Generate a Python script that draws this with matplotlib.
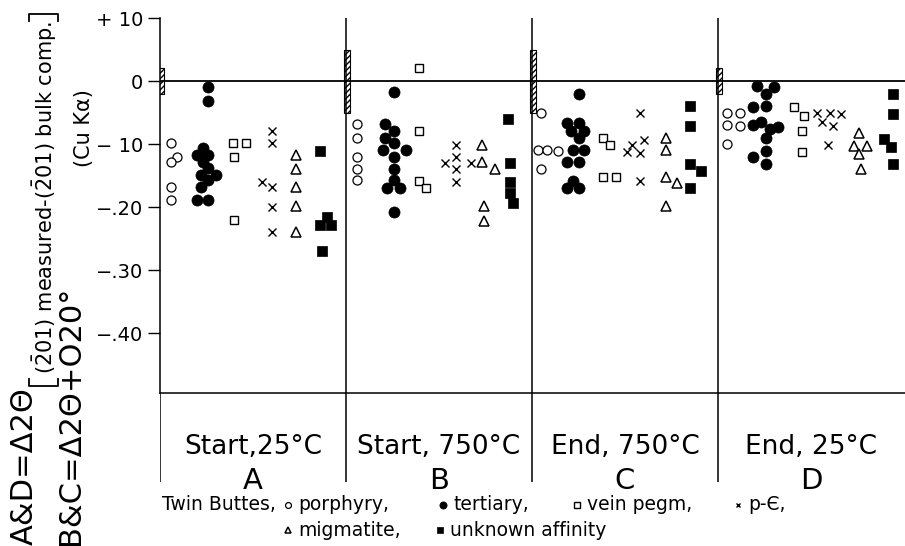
import matplotlib
matplotlib.use("Agg")
import matplotlib.pyplot as plt
from matplotlib.lines import Line2D

plt.rcParams['font.family'] = ['DejaVu Sans']
plt.rcParams['mathtext.fontset'] = 'dejavusans'

# experiment stages (one panel each)
stages = ["Start,25°C", "Start, 750°C", "End, 750°C", "End, 25°C"]
stage_letters = ["A", "B", "C", "D"]

# range of the bulk composition reference (hatched bars)
ref_top = [2, 5, 5, 2]
ref_bottom = [-2, -5, -5, -2]

# delta 2-theta values (x 0.01 deg), one list per panel A..D
porphyry = [[-9.8, -12.0, -12.8, -16.8, -18.9],
            [-6.8, -9.0, -12.0, -13.9, -15.7],
            [-5.0, -11.0, -11.0, -11.1, -14.0],
            [-5.0, -5.0, -7.0, -7.1, -10.0]]
tertiary = [[-0.9, -3.1, -10.6, -11.8, -11.8, -12.8, -13.8, -14.9, -14.9, -15.7, -16.8, -18.9, -18.9],
            [-1.8, -6.8, -7.9, -9.1, -9.9, -11.0, -11.0, -12.0, -13.9, -15.7, -16.9, -16.9, -20.8],
            [-2.0, -6.7, -6.7, -7.9, -7.9, -9.0, -11.0, -11.0, -12.9, -12.9, -15.9, -16.9, -17.0],
            [-0.8, -1.0, -2.1, -4.1, -4.0, -7.0, -6.5, -7.6, -7.3, -9.1, -11.1, -12.0, -13.1]]
vein_pegm = [[-9.9, -9.8, -12.1, -22.1],
             [2.0, -7.9, -15.9, -17.0],
             [-9.0, -10.1, -15.2, -15.2],
             [-4.1, -5.5, -8.0, -11.3]]
pre_cambrian = [[-7.9, -9.9, -16.0, -16.8, -20.0, -23.9],
                [-10.1, -12.0, -13.0, -13.9, -13.0, -16.0],
                [-5.0, -9.3, -10.1, -11.3, -11.4, -15.9],
                [-5.1, -5.1, -5.2, -6.5, -7.1, -10.1]]
migmatite = [[-11.8, -14.0, -16.8, -19.8, -23.9],
             [-10.1, -12.8, -14.0, -19.9, -22.2],
             [-9.1, -11.0, -15.2, -16.2, -19.8],
             [-8.2, -10.3, -10.3, -11.5, -14.0]]
unknown = [[-11.1, -21.5, -22.8, -22.8, -26.9],
           [-6.0, -13.0, -16.0, -17.8, -19.3],
           [-4.0, -7.1, -13.1, -14.2, -16.9],
           [-2.1, -5.2, -9.2, -10.4, -13.1]]

# horizontal placement of each point inside its panel (fraction of panel width)
porphyry_dx = [[.06, .09, .06, .06, .06], [.06] * 5,
               [.05, .03, .08, .14, .05], [.05, .12, .05, .12, .05]]
tertiary_dx = [[.26, .26, .23, .20, .26, .23, .26, .22, .30, .26, .22, .20, .26],
               [.26, .21, .26, .21, .26, .20, .32, .26, .26, .26, .22, .29, .26],
               [.25, .19, .25, .21, .28, .25, .22, .28, .19, .25, .22, .19, .25],
               [.21, .30, .26, .19, .26, .19, .23, .28, .32, .26, .26, .19, .26]]
vein_pegm_dx = [[.39, .46, .40, .40], [.39, .39, .39, .43],
                [.38, .42, .38, .45], [.41, .46, .45, .45]]
pre_cambrian_dx = [[.60, .60, .55, .60, .60, .60], [.59, .59, .53, .59, .67, .59],
                   [.58, .60, .54, .51, .58, .58], [.53, .60, .66, .56, .62, .59]]
migmatite_dx = [[.73] * 5, [.73, .73, .80, .74, .74],
                [.72, .72, .72, .78, .72], [.76, .73, .80, .76, .77]]
unknown_dx = [[.86, .90, .86, .92, .87], [.87, .88, .88, .88, .90],
              [.85, .85, .85, .91, .85], [.94, .94, .89, .93, .94]]

styles = [
    (porphyry, porphyry_dx, dict(marker='o', ms=6.5, mfc='white', mec='black', mew=0.9)),
    (tertiary, tertiary_dx, dict(marker='o', ms=8, mfc='black', mec='black', mew=0.5)),
    (vein_pegm, vein_pegm_dx, dict(marker='s', ms=6, mfc='white', mec='black', mew=1.0)),
    (pre_cambrian, pre_cambrian_dx, dict(marker='x', ms=5.5, mec='black', mew=1.0)),
    (migmatite, migmatite_dx, dict(marker='^', ms=6.5, mfc='white', mec='black', mew=1.1)),
    (unknown, unknown_dx, dict(marker='s', ms=7, mfc='black', mec='black', mew=0.5)),
]

W, H = 905, 546
fig = plt.figure(figsize=(W / 100, H / 100), dpi=100)
fig.patch.set_facecolor('white')

def fx(px):
    return px / W

def fy(py):
    return 1 - py / H

panel_px = 186.0
left_px, right_px = 160, 905
top_px, bottom_px = 18, 393
strip_px = 482

ax = fig.add_axes([fx(left_px), fy(bottom_px), fx(right_px - left_px), (bottom_px - top_px) / H])
ax.set_xlim(0, (right_px - left_px) / panel_px)
ax.set_ylim(-49.5, 10)

for vals, dxs, st in styles:
    for i in range(4):
        xs = [i + d for d in dxs[i]]
        ax.plot(xs, vals[i], linestyle='none', color='black', **st)

# hatched reference bars on the panel edges
for i in range(4):
    ax.bar(i + 0.005, ref_top[i] - ref_bottom[i], bottom=ref_bottom[i], width=0.035,
           fill=False, hatch='//////', edgecolor='black', linewidth=0.8)

ax.axhline(0, color='black', lw=1.3)
for i in (1, 2, 3):
    ax.axvline(i, color='black', lw=1.1)

for s in ('top', 'right'):
    ax.spines[s].set_visible(False)
ax.spines['left'].set_linewidth(1.1)
ax.spines['bottom'].set_linewidth(1.1)
ax.set_xticks([])
ax.set_yticks([10, 0, -10, -20, -30, -40])
ax.set_yticklabels(["+ 10", "0", "\u2212 10", "\u2212.20", "\u2212.30", "\u2212.40"], fontsize=14)
ax.tick_params(axis='y', direction='out', length=9, width=1.0, pad=3)

# stage labels under the panels
lab = fig.add_axes([fx(left_px), fy(strip_px), fx(right_px - left_px), (strip_px - bottom_px) / H])
lab.set_xlim(ax.get_xlim())
lab.set_ylim(strip_px, bottom_px)
lab.axis('off')
for i in range(4):
    lab.axvline(i, color='black', lw=1.1)
    lab.text(i + 0.5, 447, stages[i], ha='center', va='center', fontsize=19)
    lab.text(i + 0.5, 481, stage_letters[i], ha='center', va='center', fontsize=21)

# y axis description, with a tall bracket drawn as lines
fig.text(fx(24), fy(545), "A&D=\u03942\u0398", rotation=90, ha='center', va='bottom', fontsize=22)
fig.text(fx(45), fy(374), r"($\bar{2}$01) measured-($\bar{2}$01) bulk comp.",
         rotation=90, ha='center', va='bottom', fontsize=15)
fig.text(fx(71), fy(545), "B&C=\u03942\u0398+O20\u00b0", rotation=90, ha='center', va='bottom', fontsize=22)
fig.text(fx(84), fy(128), "(Cu K\u03b1)", rotation=90, ha='center', va='center', fontsize=15)
for yb, tick in ((386, -7), (14, 7)):
    fig.add_artist(Line2D([fx(29), fx(29), fx(58), fx(58)],
                          [fy(yb + tick), fy(yb), fy(yb), fy(yb + tick)],
                          transform=fig.transFigure, color='black', lw=1.3))

# legend line
leg_y1, leg_y2 = fy(505), fy(530)
fig.text(fx(162), leg_y1, "Twin Buttes,", ha='left', va='center', fontsize=13.5)
legend_items = [
    (288, leg_y1, styles[0][2], "porphyry,"),
    (443, leg_y1, styles[1][2], "tertiary,"),
    (577, leg_y1, styles[2][2], "vein pegm,"),
    (738, leg_y1, styles[3][2], "p-\u0404,"),
    (288, leg_y2, styles[4][2], "migmatite,"),
    (440, leg_y2, styles[5][2], "unknown affinity"),
]
for px, yy, st, txt in legend_items:
    small = dict(st)
    small['ms'] = st['ms'] * 0.65
    fig.add_artist(Line2D([fx(px)], [yy], transform=fig.transFigure, linestyle='none',
                          color='black', **small))
    fig.text(fx(px + 10), yy, txt, ha='left', va='center', fontsize=13.5)

fig.savefig('out.png', dpi=100, facecolor='white')
